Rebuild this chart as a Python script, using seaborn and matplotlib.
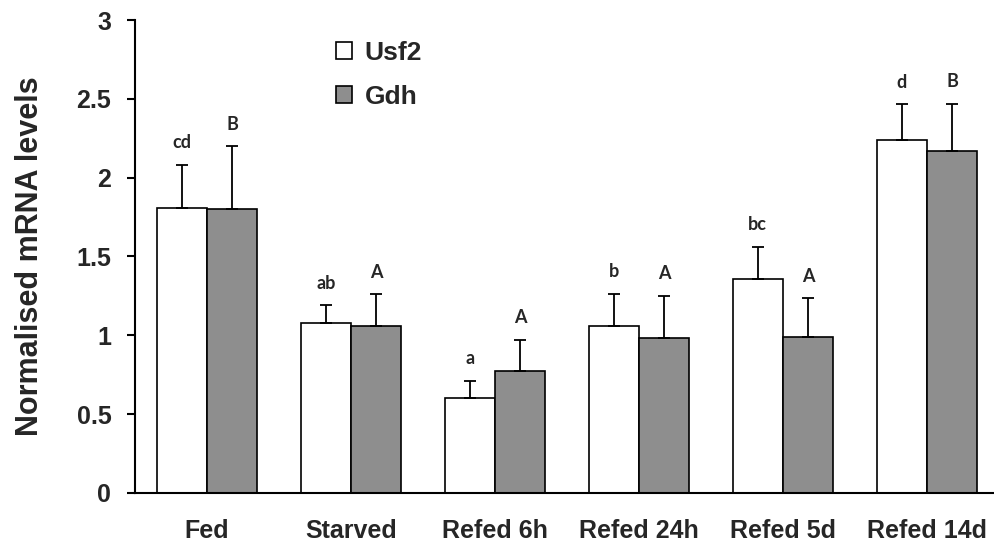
import matplotlib
matplotlib.use("Agg")
import matplotlib.pyplot as plt
import seaborn as sns
import pandas as pd
import numpy as np
from matplotlib.patches import Patch

categories = ["Fed", "Starved", "Refed 6h", "Refed 24h", "Refed 5d", "Refed 14d"]
series = ["Usf2", "Gdh"]
usf2_mean = [1.81, 1.08, 0.60, 1.06, 1.36, 2.24]
usf2_err = [0.27, 0.11, 0.11, 0.205, 0.20, 0.225]
gdh_mean = [1.80, 1.06, 0.775, 0.985, 0.99, 2.17]
gdh_err = [0.40, 0.20, 0.195, 0.265, 0.245, 0.30]
usf2_letters = ["cd", "ab", "a", "b", "bc", "d"]
gdh_letters = ["B", "A", "A", "A", "A", "B"]
yticks = [0, 0.5, 1, 1.5, 2, 2.5, 3]
ytick_labels = ["0", "0.5", "1", "1.5", "2", "2.5", "3"]

sns.set_theme(style="white")
plt.rcParams["font.family"] = ["Liberation Sans", "DejaVu Sans"]

df = pd.DataFrame({
    "category": categories * 2,
    "gene": [series[0]] * len(categories) + [series[1]] * len(categories),
    "value": usf2_mean + gdh_mean,
})

fig = plt.figure(figsize=(9.94, 5.48), dpi=100)
ax = fig.add_axes([0.1358, 0.1004, 0.8642, 0.8631])

palette = {"Usf2": "#ffffff", "Gdh": "#8e8e8e"}
sns.barplot(data=df, x="category", y="value", hue="gene", order=categories,
            hue_order=series, palette=palette, width=0.7, errorbar=None,
            edgecolor="black", linewidth=1.2, saturation=1, legend=False, ax=ax)

means = [usf2_mean, gdh_mean]
errs = [usf2_err, gdh_err]
letters = [usf2_letters, gdh_letters]
for cont, m, e, lab in zip(ax.containers, means, errs, letters):
    xs = [b.get_x() + b.get_width() / 2 for b in cont]
    ax.errorbar(xs, m, yerr=[np.zeros(len(e)), e], fmt="none", ecolor="black",
                elinewidth=1.3, capsize=4, capthick=1.3, zorder=1)
    for x, mv, ev, t in zip(xs, m, e, lab):
        ax.text(x, mv + ev + 0.14, t, ha="center", va="center", fontsize=13,
                fontweight="bold", family=["Lato", "DejaVu Sans"])

ax.set_xlim(-0.5, 5.465)
ax.set_ylim(0, 3)
ax.set_yticks(yticks)
ax.set_yticklabels(ytick_labels, fontsize=18, fontweight="bold")
ax.set_xticklabels(categories, fontsize=18, fontweight="bold")
ax.tick_params(axis="y", which="major", direction="out", length=6, width=1.5,
               pad=11, left=True, color="black")
ax.tick_params(axis="x", length=0, pad=19)
ax.set_xlabel("")
ax.set_ylabel("Normalised mRNA levels", fontsize=22, fontweight="bold")
ax.yaxis.set_label_coords(-0.105, 0.5)

for s in ["top", "right"]:
    ax.spines[s].set_visible(False)
for s in ["left", "bottom"]:
    ax.spines[s].set_color("black")
    ax.spines[s].set_linewidth(1.5)

handles = [Patch(facecolor=palette[s], edgecolor="black", linewidth=1.2, label=s) for s in series]
ax.legend(handles=handles, loc="upper left", bbox_to_anchor=(0.206, 1.006),
          frameon=False, handlelength=0.6, handleheight=0.6, handletextpad=0.5,
          labelspacing=0.75, prop={"size": 19, "weight": "bold"})

fig.savefig("out.png", dpi=100)
